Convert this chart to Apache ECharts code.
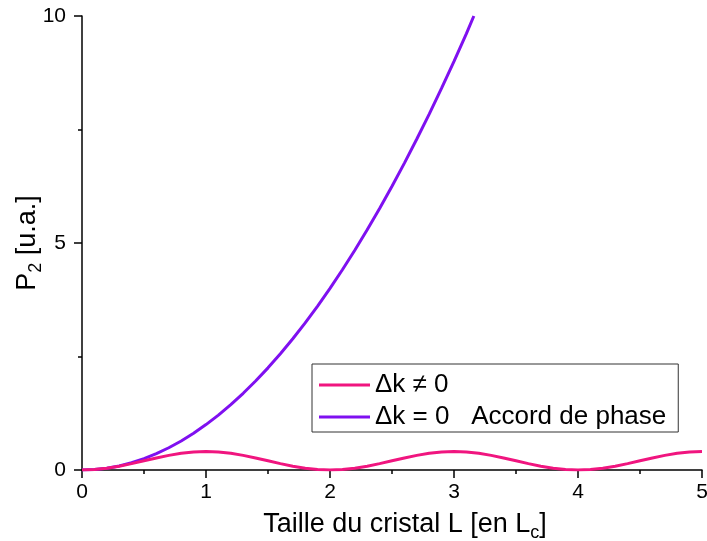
<!DOCTYPE html>
<html>
<head>
<meta charset="utf-8">
<script src="https://cdn.jsdelivr.net/npm/echarts@6/dist/echarts.min.js"></script>
<style>html,body{margin:0;padding:0;background:#fff;}#c{width:707px;height:541px;}</style>
</head>
<body>
<div id="c"></div>
<script>
// Δk ≠ 0 curve, L from 0 to 5 step 0.1
var pinkX = [0,0.1,0.2,0.3,0.4,0.5,0.6,0.7,0.8,0.9,1.0,1.1,1.2,1.3,1.4,1.5,1.6,1.7,1.8,1.9,2.0,
  2.1,2.2,2.3,2.4,2.5,2.6,2.7,2.8,2.9,3.0,3.1,3.2,3.3,3.4,3.5,3.6,3.7,3.8,3.9,4.0,
  4.1,4.2,4.3,4.4,4.5,4.6,4.7,4.8,4.9,5.0];
var pinkY = [0,0.010,0.039,0.083,0.140,0.203,0.265,0.322,0.367,0.395,0.405,0.395,0.367,0.322,0.265,0.203,0.140,0.083,0.039,0.010,0,
  0.010,0.039,0.083,0.140,0.203,0.265,0.322,0.367,0.395,0.405,0.395,0.367,0.322,0.265,0.203,0.140,0.083,0.039,0.010,0,
  0.010,0.039,0.083,0.140,0.203,0.265,0.322,0.367,0.395,0.405];
// Δk = 0 curve (phase matching)
var purpleX = [0,0.1,0.2,0.3,0.4,0.5,0.6,0.7,0.8,0.9,1.0,1.1,1.2,1.3,1.4,1.5,1.6,1.7,1.8,1.9,2.0,
  2.1,2.2,2.3,2.4,2.5,2.6,2.7,2.8,2.9,3.0,3.1,3.16];
var purpleY = [0,0.01,0.04,0.09,0.16,0.25,0.36,0.49,0.64,0.81,1.0,1.21,1.44,1.69,1.96,2.25,2.56,2.89,3.24,3.61,4.0,
  4.41,4.84,5.29,5.76,6.25,6.76,7.29,7.84,8.41,9.0,9.61,10.0];
var seriesNames = ['\u0394k \u2260 0', '\u0394k = 0   Accord de phase'];
var xTicks = [0,1,2,3,4,5];
var yTicks = [0,5,10];

function pairs(xs, ys){ return xs.map(function(x,i){return [x, ys[i]];}); }

var chart = echarts.init(document.getElementById('c'), null, {renderer:'canvas'});
var font = 'Liberation Sans, Arial, sans-serif';
chart.setOption({
  animation:false,
  backgroundColor:'#fff',
  grid:{left:82, right:5, top:16, bottom:71, containLabel:false, outerBoundsMode:'none'},
  legend:{
    orient:'vertical', left:312, top:364,
    data:seriesNames,
    itemWidth:51, itemHeight:14, itemGap:6,
    padding:[8,12,2,7],
    borderColor:'#333', borderWidth:1, borderRadius:0,
    backgroundColor:'#fff',
    textStyle:{fontFamily:font, fontSize:26, color:'#000'},
    icon:'path://M0,0L51,0L51,3L0,3Z'
  },
  xAxis:{
    type:'value', min:0, max:5, interval:1,
    name:'Taille du cristal L [en L{sub|c}]',
    nameLocation:'middle', nameGap:38, nameMoveOverlap:false,
    nameTextStyle:{fontFamily:font, fontSize:27, color:'#000', padding:[0,0,0,26],
      rich:{sub:{fontFamily:font, fontSize:18, color:'#000', padding:[16,0,0,0]}}},
    axisLine:{show:true, onZero:false, lineStyle:{color:'#000', width:1.5}},
    axisTick:{show:true, inside:false, length:8, lineStyle:{color:'#000', width:1.5}},
    minorTick:{show:true, splitNumber:2, length:4, lineStyle:{color:'#000', width:1.5}},
    axisLabel:{fontFamily:font, fontSize:21, color:'#000', margin:12,
      formatter:function(v){return xTicks.indexOf(v)>=0 ? String(v) : '';}},
    splitLine:{show:false}
  },
  yAxis:{
    type:'value', min:0, max:10, interval:5,
    name:'P{sub|2} [u.a.]',
    nameLocation:'middle', nameGap:37, nameRotate:90, nameMoveOverlap:false,
    nameTextStyle:{fontFamily:font, fontSize:27, color:'#000',
      rich:{sub:{fontFamily:font, fontSize:18, color:'#000', padding:[16,0,0,0]}}},
    axisLine:{show:true, lineStyle:{color:'#000', width:1.5}},
    axisTick:{show:true, inside:false, length:8, lineStyle:{color:'#000', width:1.5}},
    minorTick:{show:true, splitNumber:2, length:4, lineStyle:{color:'#000', width:1.5}},
    axisLabel:{fontFamily:font, fontSize:21, color:'#000', margin:16,
      formatter:function(v){return yTicks.indexOf(v)>=0 ? String(v) : '';}},
    splitLine:{show:false}
  },
  series:[
    {name:seriesNames[0], type:'line', data:pairs(pinkX,pinkY), symbol:'none', smooth:false,
     lineStyle:{color:'#F0157F', width:3}, itemStyle:{color:'#F0157F'}, z:3},
    {name:seriesNames[1], type:'line', data:pairs(purpleX,purpleY), symbol:'none', smooth:false,
     lineStyle:{color:'#7F10F0', width:3}, itemStyle:{color:'#7F10F0'}, z:2}
  ]
});
</script>
</body>
</html>
